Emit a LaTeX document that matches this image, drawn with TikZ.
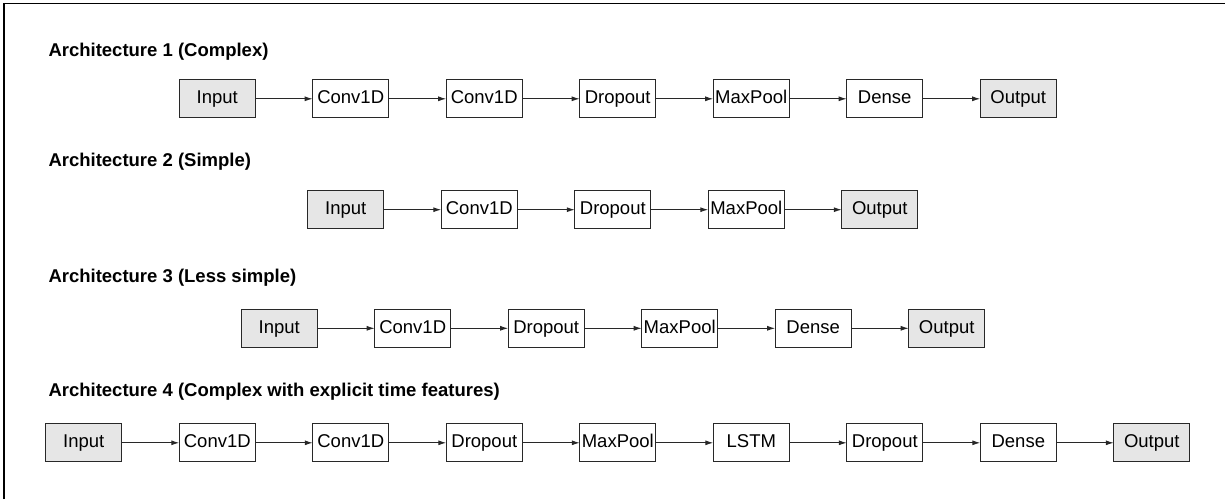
\documentclass[tikz,border=0pt]{standalone}
\usepackage{fontspec}
\setmainfont{Liberation Sans}
\usetikzlibrary{arrows.meta,positioning}

\definecolor{boxgray}{RGB}{230,230,230}
\definecolor{edgegray}{RGB}{40,40,40}

\begin{document}
\begin{tikzpicture}[
  x=1pt, y=-1pt,
  layer/.style={draw=edgegray, line width=1.2pt, fill=white, minimum width=76pt, minimum height=38pt, inner sep=0pt, outer sep=0pt, text height=13.3pt, text depth=3.9pt, font=\fontsize{18.5}{22}\selectfont},
  io/.style={layer, fill=boxgray},
  title/.style={anchor=base west, inner sep=0pt, font=\fontsize{18.5}{22}\selectfont\bfseries},
  arr/.style={-{Latex[length=8pt,width=5pt]}, draw=edgegray, line width=1pt}
]
\useasboundingbox (0,0) rectangle (1225,499);

% frame (only top and left edges show)
\draw[line width=1.5pt] (4,499) -- (4,3.3) -- (1225,3.3);

% Architecture 1
\node[title] (t1) at (48.3,56.7) {Architecture 1 (Complex)};
\node[io] (a1in) at (217.2,98.8) {Input};
\node[layer, right=57.5pt of a1in] (a1c1) {Conv1D};
\node[layer, right=57.5pt of a1c1] (a1c2) {Conv1D};
\node[layer, right=57.5pt of a1c2] (a1dr) {Dropout};
\node[layer, right=57.5pt of a1dr] (a1mp) {MaxPool};
\node[layer, right=57.5pt of a1mp] (a1de) {Dense};
\node[io, right=57.5pt of a1de] (a1out) {Output};
\draw[arr] (a1in) -- (a1c1);
\draw[arr] (a1c1) -- (a1c2);
\draw[arr] (a1c2) -- (a1dr);
\draw[arr] (a1dr) -- (a1mp);
\draw[arr] (a1mp) -- (a1de);
\draw[arr] (a1de) -- (a1out);

% Architecture 2
\node[title] (t2) at (48.3,166.7) {Architecture 2 (Simple)};
\node[io] (a2in) at (345.8,209.7) {Input};
\node[layer, right=57.5pt of a2in] (a2c1) {Conv1D};
\node[layer, right=57.5pt of a2c1] (a2dr) {Dropout};
\node[layer, right=57.5pt of a2dr] (a2mp) {MaxPool};
\node[io, right=57.5pt of a2mp] (a2out) {Output};
\draw[arr] (a2in) -- (a2c1);
\draw[arr] (a2c1) -- (a2dr);
\draw[arr] (a2dr) -- (a2mp);
\draw[arr] (a2mp) -- (a2out);

% Architecture 3
\node[title] (t3) at (48.3,282.3) {Architecture 3 (Less simple)};
\node[io] (a3in) at (279.2,328.3) {Input};
\node[layer, right=57.5pt of a3in] (a3c1) {Conv1D};
\node[layer, right=57.5pt of a3c1] (a3dr) {Dropout};
\node[layer, right=57.5pt of a3dr] (a3mp) {MaxPool};
\node[layer, right=57.5pt of a3mp] (a3de) {Dense};
\node[io, right=57.5pt of a3de] (a3out) {Output};
\draw[arr] (a3in) -- (a3c1);
\draw[arr] (a3c1) -- (a3dr);
\draw[arr] (a3dr) -- (a3mp);
\draw[arr] (a3mp) -- (a3de);
\draw[arr] (a3de) -- (a3out);

% Architecture 4
\node[title] (t4) at (48.3,396.7) {Architecture 4 (Complex with explicit time features)};
\node[io] (a4in) at (83.8,442.8) {Input};
\node[layer, right=57.5pt of a4in] (a4c1) {Conv1D};
\node[layer, right=57.5pt of a4c1] (a4c2) {Conv1D};
\node[layer, right=57.5pt of a4c2] (a4dr1) {Dropout};
\node[layer, right=57.5pt of a4dr1] (a4mp) {MaxPool};
\node[layer, right=57.5pt of a4mp] (a4ls) {LSTM};
\node[layer, right=57.5pt of a4ls] (a4dr2) {Dropout};
\node[layer, right=57.5pt of a4dr2] (a4de) {Dense};
\node[io, right=57.5pt of a4de] (a4out) {Output};
\draw[arr] (a4in) -- (a4c1);
\draw[arr] (a4c1) -- (a4c2);
\draw[arr] (a4c2) -- (a4dr1);
\draw[arr] (a4dr1) -- (a4mp);
\draw[arr] (a4mp) -- (a4ls);
\draw[arr] (a4ls) -- (a4dr2);
\draw[arr] (a4dr2) -- (a4de);
\draw[arr] (a4de) -- (a4out);

\end{tikzpicture}
\end{document}
